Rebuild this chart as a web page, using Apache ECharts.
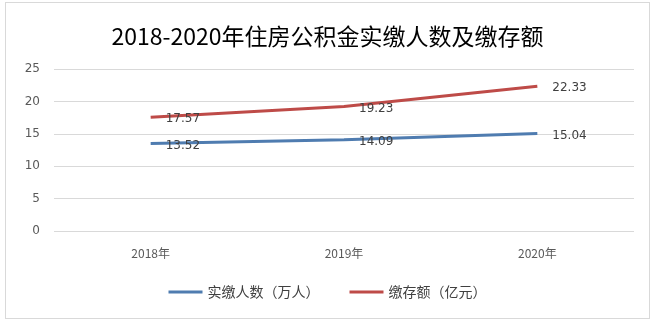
<!DOCTYPE html>
<html><head><meta charset="utf-8">
<script src="https://cdn.jsdelivr.net/npm/echarts@6/dist/echarts.min.js"></script>
<style>
html,body{margin:0;padding:0;background:#fff;}
#c{position:absolute;left:5px;top:2px;width:645px;height:317px;border:1px solid #d9d9d9;box-sizing:border-box;}
</style></head>
<body><div id="c"></div>
<script>
const categories = ['2018年','2019年','2020年'];
const peopleValues = [13.52, 14.09, 15.04];
const depositValues = [17.57, 19.23, 22.33];
const seriesNames = ['实缴人数（万人）','缴存额（亿元）'];
const yTicks = [0, 5, 10, 15, 20, 25];

const chart = echarts.init(document.getElementById('c'));
const font = '"Noto Sans CJK SC","Microsoft YaHei",sans-serif';
const mk = (name, data, color) => ({
  name, type: 'line', data,
  symbol: 'circle', symbolSize: 0, showSymbol: true,
  lineStyle: {color, width: 3},
  itemStyle: {color},
  label: {show: true, position: 'right', distance: 15, color: '#404040', fontSize: 12, fontFamily: 'DejaVu Sans', offset:[0,2]}
});
chart.setOption({
  animation: false,
  textStyle: {fontFamily: font},
  title: {text: '2018-2020年住房公积金实缴人数及缴存额', left: 'center', top: 17,
    textStyle: {fontSize: 23, fontWeight: 'normal', color: '#000', fontFamily: font}},
  grid: {left: 48, right: 15, top: 66, bottom: 87},
  legend: {bottom: 14, itemWidth: 34, itemHeight: 3, itemGap: 30, icon: 'rect',
    textStyle: {fontSize: 14, color: '#404040', fontFamily: font}},
  xAxis: {type: 'category', data: categories, boundaryGap: true,
    axisLine: {show: false}, axisTick: {show: false},
    axisLabel: {color: '#595959', fontSize: 12, margin: 16, fontFamily: font}},
  yAxis: {type: 'value', min: yTicks[0], max: yTicks[yTicks.length-1], interval: 5,
    axisLine: {show: false}, axisTick: {show: false},
    axisLabel: {color: '#595959', fontSize: 12, margin: 14, fontFamily: 'DejaVu Sans'},
    splitLine: {lineStyle: {color: '#d9d9d9', width: 1}}},
  series: [mk(seriesNames[0], peopleValues, '#4f7cb0'), mk(seriesNames[1], depositValues, '#be4b48')]
});
</script></body></html>
